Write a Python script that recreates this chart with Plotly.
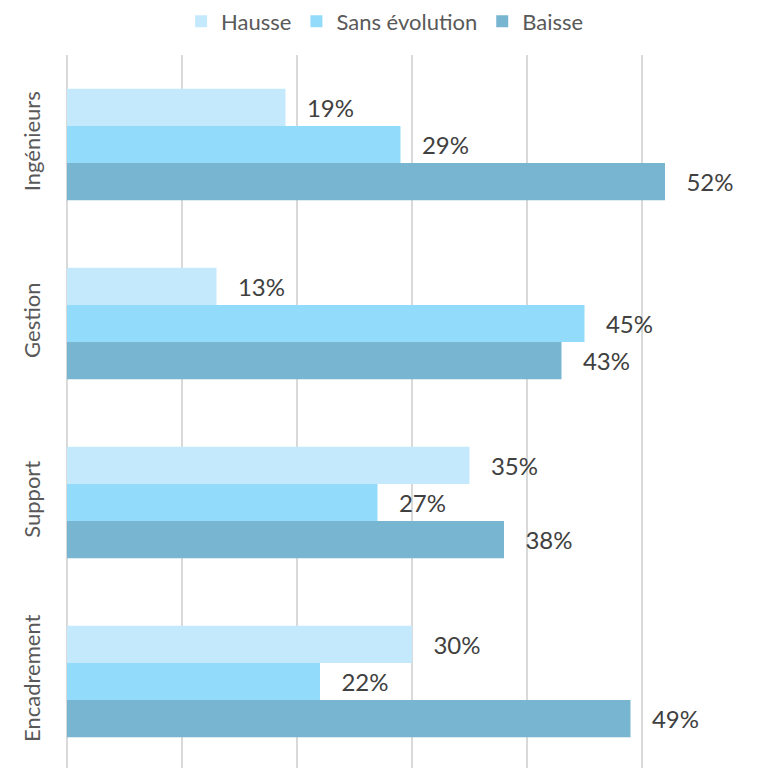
import plotly.graph_objects as go

categories = ["Encadrement", "Support", "Gestion", "Ingénieurs"]
hausse = [30, 35, 13, 19]
sans_evolution = [22, 27, 45, 29]
baisse = [49, 38, 43, 52]

series = [
    ("Baisse", baisse, "#78B5D0"),
    ("Sans évolution", sans_evolution, "#92DBFA"),
    ("Hausse", hausse, "#C5E9FC"),
]

FONT = "Lato"
fig = go.Figure()
for name, vals, color in series:
    fig.add_trace(go.Bar(
        y=categories, x=vals, name=name, orientation="h",
        marker=dict(color=color, line=dict(width=0)),
        text=["\u00a0\u00a0\u00a0" + f"{v}%" for v in vals],
        textposition="outside", cliponaxis=False,
        textfont=dict(family=FONT, size=24, color="#404040"),
    ))

fig.update_layout(
    width=760, height=768,
    margin=dict(l=67, r=3, t=51, b=0),
    paper_bgcolor="white", plot_bgcolor="white",
    barmode="group", bargap=0.378, bargroupgap=0,
    font=dict(family=FONT, color="#595959"),
    showlegend=True,
    legend=dict(orientation="h", traceorder="reversed", x=0.461, xanchor="center",
                y=1.047, yanchor="middle", font=dict(family=FONT, size=22, color="#595959"),
                itemsizing="constant"),
    xaxis=dict(range=[0, 60], dtick=10, showticklabels=False, showgrid=True,
               gridcolor="#D9D9D9", gridwidth=2, zeroline=True, zerolinecolor="#D9D9D9",
               zerolinewidth=2, showline=False, ticks=""),
    yaxis=dict(type="category", range=[-0.483, 3.5], tickangle=-90,
               tickfont=dict(family=FONT, size=22, color="#595959"),
               showgrid=False, showline=False, ticks="", ticklabelstandoff=22),
)

fig.write_html("out.html")
